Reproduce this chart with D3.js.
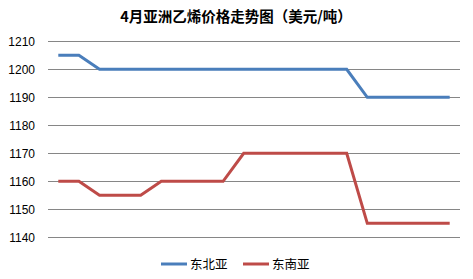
<!DOCTYPE html>
<html>
<head>
<meta charset="utf-8">
<script src="https://cdn.jsdelivr.net/npm/d3@7"></script>
<style>
  body { margin: 0; background: #fff; }
  text { font-family: "Liberation Sans", "Noto Sans CJK SC", sans-serif; }
</style>
</head>
<body>
<svg id="chart"></svg>
<script>
// chart data
const days = d3.range(1, 21).map(String);
const seriesNames = ["东北亚", "东南亚"];
const northeast = [1205, 1205, 1200, 1200, 1200, 1200, 1200, 1200, 1200, 1200,
                   1200, 1200, 1200, 1200, 1200, 1190, 1190, 1190, 1190, 1190];
const southeast = [1160, 1160, 1155, 1155, 1155, 1160, 1160, 1160, 1160, 1170,
                   1170, 1170, 1170, 1170, 1170, 1145, 1145, 1145, 1145, 1145];
const yTicks = [1140, 1150, 1160, 1170, 1180, 1190, 1200, 1210];
const colors = ["#4a7ebb", "#be4b48"];

const width = 473, height = 279;
const svg = d3.select("#chart").attr("width", width).attr("height", height);

// scales
const x = d3.scaleBand().domain(days).range([48, 460]);
const y = d3.scaleLinear().domain([1140, 1210]).range([237.3, 41.3]);

// title
svg.append("text")
  .attr("x", 236).attr("y", 22)
  .attr("text-anchor", "middle")
  .style("font-family", "'Noto Sans CJK SC', sans-serif")
  .style("font-weight", "bold")
  .style("font-size", "14.5px")
  .text("4月亚洲乙烯价格走势图（美元/吨）");

// gridlines
svg.append("g").selectAll("line").data(yTicks).enter().append("line")
  .attr("x1", 48).attr("x2", 460)
  .attr("y1", d => Math.round(y(d)) + 0.5).attr("y2", d => Math.round(y(d)) + 0.5)
  .attr("stroke", "#868686").attr("stroke-width", 1);

// y labels
const yAxis = svg.append("g")
  .attr("transform", "translate(48,0)")
  .call(d3.axisLeft(y).tickValues(yTicks).tickSize(0).tickPadding(13).tickFormat(d3.format("d")));
yAxis.select(".domain").remove();
yAxis.selectAll("text").style("font-size", "12px").attr("fill", "#000");

// lines
const line = d3.line()
  .x((d, i) => x(days[i]) + x.bandwidth() / 2)
  .y(d => y(d));

[northeast, southeast].forEach(function(vals, k){
  svg.append("path")
    .datum(vals)
    .attr("d", line)
    .attr("fill", "none")
    .attr("stroke", colors[k])
    .attr("stroke-width", 3);
});

// legend
const legendX = [161, 243];
const legend = svg.append("g").selectAll("g").data(seriesNames).enter().append("g")
  .attr("transform", (d, i) => "translate(" + legendX[i] + ",264)");
legend.append("line")
  .attr("x1", 0).attr("x2", 26)
  .attr("stroke", (d, i) => colors[i]).attr("stroke-width", 3);
legend.append("text")
  .attr("x", 29).attr("y", 4.5)
  .style("font-family", "'Noto Sans CJK SC', sans-serif")
  .style("font-size", "12.5px")
  .text(d => d);
</script>
</body>
</html>
